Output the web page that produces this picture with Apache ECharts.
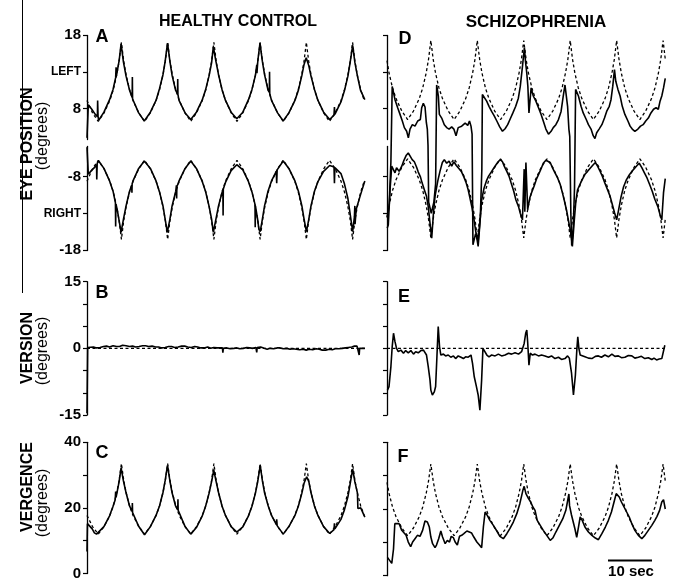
<!DOCTYPE html>
<html>
<head>
<meta charset="utf-8">
<script src="https://cdn.jsdelivr.net/npm/echarts@6.0.0/dist/echarts.min.js"></script>
<style>
  html, body { margin: 0; padding: 0; background: #fff; }
  #chart { width: 673px; height: 581px; }
</style>
</head>
<body>
<div id="chart"></div>
<script>
// target (dashed) traces, time in seconds
var hcTgtTime = [0, 1.27, 2.6,
  3.93, 5.27, 6.06, 6.86, 7.4, 7.93, 8.46, 9.0, 9.8, 10.6, 11.93, 13.25,
  14.58, 15.92, 16.71, 17.51, 18.05, 18.58, 19.11, 19.65, 20.45, 21.25, 22.58, 23.9,
  25.23, 26.57, 27.36, 28.16, 28.7, 29.23, 29.76, 30.3, 31.1, 31.9, 33.23, 34.55,
  35.88, 37.22, 38.01, 38.81, 39.35, 39.88, 40.41, 40.95, 41.75, 42.55, 43.88, 45.2,
  46.53, 47.87, 48.66, 49.46, 50.0, 50.53, 51.06, 51.6, 52.4, 53.2, 54.53, 55.85,
  57.18, 58.52, 59.31, 60.11, 60.65, 61.18, 61.71, 62.25, 63.05, 63.85];
var hcLeftTarget = [9.1, 7.4, 6.25,
  7.4, 9.1, 10.55, 12.6, 14.45, 17.0, 14.45, 12.6, 10.55, 9.1, 7.4, 6.25,
  7.4, 9.1, 10.55, 12.6, 14.45, 17.0, 14.45, 12.6, 10.55, 9.1, 7.4, 6.25,
  7.4, 9.1, 10.55, 12.6, 14.45, 17.0, 14.45, 12.6, 10.55, 9.1, 7.4, 6.25,
  7.4, 9.1, 10.55, 12.6, 14.45, 17.0, 14.45, 12.6, 10.55, 9.1, 7.4, 6.25,
  7.4, 9.1, 10.55, 12.6, 14.45, 17.0, 14.45, 12.6, 10.55, 9.1, 7.4, 6.25,
  7.4, 9.1, 10.55, 12.6, 14.45, 17.0, 14.45, 12.6, 10.55, 9.1];
var hcRightTarget = [-8.65, -6.95, -5.8,
  -6.95, -8.65, -10.1, -12.15, -14.0, -16.55, -14.0, -12.15, -10.1, -8.65, -6.95, -5.8,
  -6.95, -8.65, -10.1, -12.15, -14.0, -16.55, -14.0, -12.15, -10.1, -8.65, -6.95, -5.8,
  -6.95, -8.65, -10.1, -12.15, -14.0, -16.55, -14.0, -12.15, -10.1, -8.65, -6.95, -5.8,
  -6.95, -8.65, -10.1, -12.15, -14.0, -16.55, -14.0, -12.15, -10.1, -8.65, -6.95, -5.8,
  -6.95, -8.65, -10.1, -12.15, -14.0, -16.55, -14.0, -12.15, -10.1, -8.65, -6.95, -5.8,
  -6.95, -8.65, -10.1, -12.15, -14.0, -16.55, -14.0, -12.15, -10.1, -8.65];
var hcVergTarget = [17.7, 14.3, 12,
  14.3, 17.7, 20.6, 24.7, 28.4, 33.5, 28.4, 24.7, 20.6, 17.7, 14.3, 12,
  14.3, 17.7, 20.6, 24.7, 28.4, 33.5, 28.4, 24.7, 20.6, 17.7, 14.3, 12,
  14.3, 17.7, 20.6, 24.7, 28.4, 33.5, 28.4, 24.7, 20.6, 17.7, 14.3, 12,
  14.3, 17.7, 20.6, 24.7, 28.4, 33.5, 28.4, 24.7, 20.6, 17.7, 14.3, 12,
  14.3, 17.7, 20.6, 24.7, 28.4, 33.5, 28.4, 24.7, 20.6, 17.7, 14.3, 12,
  14.3, 17.7, 20.6, 24.7, 28.4, 33.5, 28.4, 24.7, 20.6, 17.7];

var szTgtTime = [0, 0.47, 1.27, 2.08, 3.41, 4.75,
  6.09, 7.43, 8.23, 9.03, 9.57, 10.1, 10.64, 11.17, 11.97, 12.78, 14.11, 15.45,
  16.79, 18.13, 18.93, 19.73, 20.27, 20.8, 21.34, 21.87, 22.67, 23.48, 24.81, 26.15,
  27.49, 28.83, 29.63, 30.43, 30.97, 31.5, 32.04, 32.57, 33.37, 34.18, 35.51, 36.85,
  38.19, 39.53, 40.33, 41.13, 41.67, 42.2, 42.74, 43.27, 44.07, 44.88, 46.21, 47.55,
  48.89, 50.23, 51.03, 51.83, 52.37, 52.9, 53.44, 53.97, 54.77, 55.58, 56.91, 58.25,
  59.59, 60.93, 61.73, 62.53, 63.07, 63.6, 64.1];
var szLeftTarget = [14.5, 12.85, 10.8, 9.35, 7.65, 6.5,
  7.65, 9.35, 10.8, 12.85, 14.7, 17.25, 14.7, 12.85, 10.8, 9.35, 7.65, 6.5,
  7.65, 9.35, 10.8, 12.85, 14.7, 17.25, 14.7, 12.85, 10.8, 9.35, 7.65, 6.5,
  7.65, 9.35, 10.8, 12.85, 14.7, 17.25, 14.7, 12.85, 10.8, 9.35, 7.65, 6.5,
  7.65, 9.35, 10.8, 12.85, 14.7, 17.25, 14.7, 12.85, 10.8, 9.35, 7.65, 6.5,
  7.65, 9.35, 10.8, 12.85, 14.7, 17.25, 14.7, 12.85, 10.8, 9.35, 7.65, 6.5,
  7.65, 9.35, 10.8, 12.85, 14.7, 17.25, 14.7];
var szRightTarget = [-13.6, -11.95, -9.9, -8.45, -6.75, -5.6,
  -6.75, -8.45, -9.9, -11.95, -13.8, -16.35, -13.8, -11.95, -9.9, -8.45, -6.75, -5.6,
  -6.75, -8.45, -9.9, -11.95, -13.8, -16.35, -13.8, -11.95, -9.9, -8.45, -6.75, -5.6,
  -6.75, -8.45, -9.9, -11.95, -13.8, -16.35, -13.8, -11.95, -9.9, -8.45, -6.75, -5.6,
  -6.75, -8.45, -9.9, -11.95, -13.8, -16.35, -13.8, -11.95, -9.9, -8.45, -6.75, -5.6,
  -6.75, -8.45, -9.9, -11.95, -13.8, -16.35, -13.8, -11.95, -9.9, -8.45, -6.75, -5.6,
  -6.75, -8.45, -9.9, -11.95, -13.8, -16.35, -13.8];
var szVergTarget = [28.0, 24.7, 20.6, 17.7, 14.3, 12,
  14.3, 17.7, 20.6, 24.7, 28.4, 33.5, 28.4, 24.7, 20.6, 17.7, 14.3, 12,
  14.3, 17.7, 20.6, 24.7, 28.4, 33.5, 28.4, 24.7, 20.6, 17.7, 14.3, 12,
  14.3, 17.7, 20.6, 24.7, 28.4, 33.5, 28.4, 24.7, 20.6, 17.7, 14.3, 12,
  14.3, 17.7, 20.6, 24.7, 28.4, 33.5, 28.4, 24.7, 20.6, 17.7, 14.3, 12,
  14.3, 17.7, 20.6, 24.7, 28.4, 33.5, 28.4, 24.7, 20.6, 17.7, 14.3, 12,
  14.3, 17.7, 20.6, 24.7, 28.4, 33.5, 28.4];

var versionTgtTime = [0, 64.1];
var versionTarget = [0, 0];

// recorded eye traces, [time, degrees]
var hcLeftEye = [[0,4.0],[0.3,8.5],[1.1,7.9],[1.9,7.2],[2.4,6.9],[2.45,9.1],[2.55,6.9],[2.7,6.4],[3.9,7.5],[5.2,9.2],[6.0,10.6],[6.6,12.2],[6.7,13.6],[6.8,12.5],[7.4,14.5],[7.85,16.8],[8.4,14.3],[9.0,12.4],[9.8,10.5],[10.4,9.5],[10.45,12.3],[10.5,9.3],[11.9,7.4],[13.2,6.3],[14.6,7.5],[15.9,9.1],[16.7,10.7],[17.5,12.6],[18.0,14.4],[18.55,16.9],[19.1,14.4],[19.6,12.5],[20.4,10.5],[20.85,10.0],[20.9,12.0],[20.95,9.9],[21.2,9.1],[22.6,7.4],[23.9,6.5],[25.2,7.5],[26.5,9.1],[27.3,10.5],[28.1,12.4],[28.7,14.2],[29.1,16.4],[29.7,14.4],[30.3,12.6],[31.1,10.6],[31.9,9.1],[33.2,7.5],[34.5,6.6],[35.9,7.5],[37.2,9.2],[38.0,10.6],[38.8,12.5],[39.1,13.9],[39.15,12.8],[39.35,14.5],[39.85,16.9],[40.4,14.4],[40.9,12.6],[41.7,10.5],[42.0,10.2],[42.05,13.0],[42.1,10.0],[42.5,9.1],[43.9,7.4],[45.2,6.3],[46.5,7.4],[47.9,9.1],[48.7,10.5],[49.5,12.5],[50.0,14.0],[50.5,14.9],[51.1,13.8],[51.6,12.4],[52.4,10.6],[53.2,9.1],[54.5,7.5],[55.9,6.5],[56.9,7.1],[57.0,8.2],[57.1,7.2],[58.5,8.9],[59.3,10.4],[60.1,12.4],[60.6,14.2],[61.2,16.6],[61.7,14.3],[62.3,12.4],[63.0,10.5],[64.0,9.2]];
var hcRightEye = [[0,-4.0],[0.3,-7.7],[1.0,-7.2],[1.7,-6.8],[2.2,-6.4],[2.25,-8.4],[2.35,-6.2],[2.7,-5.9],[3.9,-6.9],[5.2,-8.6],[6.0,-10.0],[6.55,-11.6],[6.6,-14.8],[6.65,-12.0],[6.9,-12.3],[7.4,-14.0],[7.85,-15.6],[8.4,-13.8],[9.0,-12.0],[9.8,-10.0],[10.3,-9.2],[10.35,-10.2],[10.4,-9.0],[10.6,-8.6],[11.9,-6.9],[13.2,-5.9],[14.6,-6.9],[15.9,-8.6],[16.7,-10.1],[17.5,-12.0],[18.0,-13.8],[18.5,-15.6],[19.1,-13.8],[19.6,-12.0],[20.45,-10.0],[20.6,-9.2],[20.65,-11.0],[20.7,-9.4],[21.2,-8.6],[22.6,-6.9],[23.9,-5.9],[25.2,-6.9],[26.5,-8.6],[27.3,-10.0],[28.1,-12.0],[28.7,-13.8],[29.1,-15.6],[29.7,-13.8],[30.3,-12.0],[31.1,-10.2],[31.3,-9.8],[31.35,-13.3],[31.4,-9.7],[31.9,-8.8],[33.2,-7.2],[34.5,-6.4],[35.9,-7.1],[37.2,-8.7],[38.0,-10.1],[38.7,-11.8],[38.75,-14.9],[38.8,-12.0],[39.3,-13.8],[39.6,-15.2],[39.9,-15.5],[40.4,-13.8],[40.9,-12.0],[41.7,-10.0],[42.5,-8.6],[43.6,-7.3],[43.7,-8.9],[43.8,-7.1],[45.2,-5.9],[46.5,-6.9],[47.9,-8.6],[48.7,-10.0],[49.5,-12.0],[50.0,-13.8],[50.55,-15.5],[51.1,-13.8],[51.6,-12.0],[52.4,-10.0],[53.2,-8.7],[54.5,-7.3],[55.9,-6.5],[56.9,-6.7],[57.0,-8.9],[57.1,-6.8],[58.5,-7.6],[59.3,-9.0],[60.1,-11.0],[60.6,-13.0],[61.2,-15.5],[61.6,-13.5],[61.7,-12.0],[61.75,-14.5],[62.0,-12.5],[62.3,-12.6],[63.0,-10.5],[64.0,-8.6]];
var hcVersion = [[0,-14.6],[0.1,-14.6],[0.15,0.2],[1.5,0.3],[2.2,0.1],[3,0.2],[3.8,0.4],[4.5,0.5],[5.2,0.3],[6,0.6],[6.8,0.4],[7.5,0.4],[8.2,0.7],[9,0.6],[9.8,0.4],[10.5,0.5],[11.2,0.3],[12,0.4],[12.8,0.6],[13.5,0.6],[14.2,0.4],[15,0.5],[15.8,0.3],[16.5,0.3],[17.2,0.1],[18,0.2],[18.8,0.4],[19.5,0.4],[20.2,0.2],[21,0.3],[21.8,0.5],[22.5,0.5],[23.2,0.3],[24,0.2],[24.8,0.4],[25.5,0.3],[26.2,0.1],[27,0.1],[27.8,0.3],[28.5,0.0],[29.2,0.2],[30,0.1],[31.2,0.1],[31.3,-1.0],[31.4,0.0],[32.2,0.1],[33,-0.1],[33.8,0.0],[34.5,0.1],[35.2,-0.1],[36,0.0],[36.8,0.2],[37.5,0.1],[38.2,0.0],[38.9,0.2],[39.1,-0.9],[39.2,0.2],[40,0.3],[40.8,0.0],[41.5,-0.2],[42.2,0.0],[43,-0.1],[43.8,0.1],[44.5,0.1],[45.2,-0.1],[46,0.0],[46.8,-0.2],[47.5,-0.1],[48.2,-0.2],[49,-0.3],[49.8,-0.2],[50.5,-0.4],[51.2,-0.2],[52,-0.3],[52.8,-0.1],[53.5,-0.2],[54.2,-0.4],[55,-0.4],[55.8,-0.2],[56.5,-0.3],[57.2,-0.1],[58,-0.1],[58.8,0.0],[59.5,0.1],[60.2,0.2],[61,0.3],[61.6,0.5],[62.2,0.5],[62.6,0.1],[62.7,-1.5],[62.8,0.0],[64,0.0]];
var hcVergence = [[0,6.7],[0.1,15.2],[0.5,15.0],[1.2,13.6],[1.7,12.4],[2.2,12.0],[2.6,12.2],[3.9,14.3],[5.2,17.6],[6.0,20.5],[6.5,22.5],[6.6,25.0],[6.7,23.2],[7.4,28.0],[7.85,32.2],[8.4,28.2],[9.0,24.6],[9.8,20.6],[10.4,18.9],[10.45,21.5],[10.5,18.6],[11.9,14.4],[13.25,11.8],[14.6,14.3],[15.9,17.7],[16.7,20.6],[17.5,24.7],[18.0,28.3],[18.55,33.0],[19.1,28.2],[19.6,24.6],[20.4,20.6],[20.9,19.5],[20.95,22.6],[21.0,19.3],[22.6,14.3],[23.9,12.0],[25.2,14.0],[26.5,17.4],[27.3,20.4],[28.1,24.4],[28.7,28.0],[29.2,31.6],[29.7,28.3],[30.3,24.7],[31.1,20.6],[31.9,17.7],[33.2,14.3],[34.5,12.6],[35.9,14.2],[37.2,17.6],[38.0,20.5],[38.8,24.5],[39.35,28.2],[39.9,33.0],[40.4,28.3],[40.9,24.6],[41.75,20.6],[42.5,17.7],[43.6,15.0],[43.7,16.5],[43.8,14.6],[45.2,12.0],[46.5,14.3],[47.9,17.7],[48.7,20.6],[49.5,24.5],[50.0,27.5],[50.6,29.5],[51.1,28.0],[51.6,24.6],[52.4,20.6],[53.2,17.7],[54.5,14.3],[55.9,12.2],[56.9,13.4],[57.0,15.3],[57.1,13.6],[58.5,16.5],[59.3,19.4],[60.1,23.4],[60.6,27.2],[61.2,31.8],[61.7,28.0],[62.3,24.5],[62.4,19.8],[62.6,20.0],[63.05,20.0],[64.0,17.2]];

var szLeftEye = [[0.05,-13.5],[0.5,-12.0],[0.9,-6.0],[1.2,11.0],[1.5,10.8],[1.84,9.2],[2.46,8.1],[3.0,7.2],[3.53,6.3],[4.0,5.4],[4.53,4.9],[4.92,4.0],[5.3,5.2],[5.84,5.8],[6.45,5.6],[7.07,6.3],[7.68,6.5],[7.99,8.1],[8.37,8.7],[8.76,8.2],[9.06,6.1],[9.29,5.2],[9.45,-3.0],[9.6,-11.5],[10.2,-13.0],[10.8,-11.5],[11.2,-9.0],[11.44,11.2],[11.83,9.7],[12.06,7.2],[12.6,6.7],[13.2,5.8],[13.75,5.4],[14.3,5.2],[14.9,5.5],[15.4,5.2],[15.9,4.3],[16.4,5.4],[17.2,5.6],[18.0,6.0],[18.6,5.7],[19.0,6.3],[19.35,5.6],[19.6,4.5],[19.8,-17.3],[20.4,-15.8],[21.0,-16.8],[21.5,-13.5],[21.85,-7.0],[21.97,9.9],[22.4,9.7],[22.96,9.0],[23.5,8.3],[24.1,7.6],[24.7,7.0],[25.3,6.3],[25.96,5.5],[26.6,4.9],[27.2,5.25],[27.8,5.8],[28.4,6.6],[29.0,7.4],[29.65,8.3],[30.26,9.4],[30.7,11.0],[31.2,13.7],[31.65,16.3],[31.9,14.4],[32.2,12.8],[32.45,11.0],[32.7,7.4],[33.2,10.8],[33.7,9.7],[34.3,9.0],[34.9,8.1],[35.5,7.2],[36.0,6.3],[36.6,5.2],[37.2,4.5],[37.8,4.9],[38.3,5.4],[38.9,5.8],[39.5,6.5],[40.1,7.6],[40.6,9.7],[41.0,11.2],[41.4,11.0],[41.6,8.3],[41.9,5.2],[42.1,4.2],[42.35,-13.0],[42.55,-17.4],[42.9,-15.0],[43.2,-9.5],[43.45,10.6],[44.1,9.7],[44.7,8.3],[45.2,7.4],[45.9,6.5],[46.4,5.8],[47.0,5.2],[47.5,4.3],[47.9,3.9],[48.3,4.7],[48.85,5.2],[49.5,5.8],[50.1,6.7],[50.6,7.6],[51.2,8.3],[51.6,9.2],[52.0,11.0],[52.4,13.3],[52.7,11.7],[53.2,10.6],[53.7,9.7],[54.2,8.3],[54.8,7.2],[55.5,6.3],[56.0,5.6],[56.5,5.2],[57.1,4.9],[57.8,5.2],[58.4,5.6],[59.0,5.8],[59.6,6.3],[60.2,6.7],[60.8,7.4],[61.4,7.9],[61.98,8.1],[62.5,7.9],[62.9,9.0],[63.3,9.7],[63.7,10.8],[64.1,12.1]];
var szRightEye = [[0.05,-15.0],[0.3,-14.6],[0.7,-9.8],[1.08,-6.6],[1.46,-6.4],[1.84,-7.5],[2.2,-6.8],[2.8,-7.3],[3.4,-6.6],[3.9,-5.8],[4.45,-5.1],[4.9,-4.8],[5.4,-5.3],[5.8,-5.7],[6.3,-6.0],[6.8,-6.7],[7.2,-7.4],[7.7,-8.05],[8.1,-8.9],[8.6,-9.8],[9.1,-10.7],[9.5,-12.1],[9.9,-14.3],[10.3,-16.4],[10.7,-13.0],[11.06,-10.7],[11.7,-8.6],[12.2,-7.3],[12.75,-6.1],[13.2,-5.7],[13.75,-6.2],[14.3,-5.9],[14.9,-6.6],[15.4,-6.0],[15.97,-6.5],[16.6,-6.95],[17.2,-7.4],[17.7,-8.05],[18.2,-8.8],[18.7,-9.8],[19.1,-10.9],[19.6,-12.3],[20.05,-13.9],[20.5,-15.7],[21.0,-17.5],[21.35,-14.8],[21.8,-11.2],[22.35,-9.6],[22.9,-8.6],[23.4,-7.95],[24.0,-7.4],[24.5,-6.95],[25.0,-6.5],[25.6,-6.0],[26.1,-5.7],[26.6,-6.0],[27.0,-6.6],[27.6,-7.3],[28.1,-7.95],[28.6,-8.9],[29.2,-10.0],[29.7,-11.2],[30.3,-12.1],[30.7,-13.0],[31.2,-13.9],[31.5,-14.1],[31.6,-7.0],[31.75,-12.8],[32.0,-6.1],[32.4,-12.5],[32.9,-10.9],[33.3,-10.2],[33.9,-9.3],[34.4,-8.4],[35.0,-7.6],[35.5,-6.95],[36.0,-6.2],[36.6,-5.8],[37.0,-5.6],[37.6,-6.1],[38.1,-6.8],[38.7,-7.5],[39.3,-8.2],[39.9,-9.1],[40.4,-10.2],[40.9,-11.4],[41.4,-12.7],[41.9,-14.3],[42.4,-15.8],[42.7,-17.5],[43.1,-14.3],[43.5,-11.4],[43.9,-9.8],[44.5,-9.0],[45.0,-8.4],[45.6,-7.7],[46.2,-7.3],[46.9,-6.8],[47.5,-6.4],[48.0,-6.1],[48.5,-6.6],[49.1,-7.3],[49.6,-7.95],[50.2,-8.9],[50.8,-9.8],[51.4,-10.7],[51.9,-11.8],[52.4,-12.9],[52.9,-13.9],[53.3,-12.7],[53.9,-10.8],[54.5,-9.4],[55.1,-8.5],[55.8,-7.8],[56.4,-7.3],[57.0,-6.9],[57.6,-6.5],[58.1,-6.2],[58.7,-6.8],[59.3,-7.5],[59.9,-8.2],[60.5,-9.1],[61.1,-10.0],[61.7,-11.1],[62.4,-12.1],[62.9,-13.2],[63.3,-13.9],[63.7,-10.2],[64.1,-8.3]];
var szVersion = [[0.1,-9.4],[0.46,-8.6],[0.9,-4.1],[1.2,0.4],[1.5,3.4],[1.84,1.5],[2.2,0],[2.6,-0.75],[3.2,-0.4],[3.8,-1.1],[4.3,-0.5],[4.9,-1.0],[5.5,-0.5],[6.1,-1.3],[6.6,-0.75],[7.2,-1.0],[7.8,-0.5],[8.4,-0.4],[8.8,-0.5],[9.1,-1.5],[9.5,-4.1],[9.9,-7.1],[10.1,-9.4],[10.45,-10.5],[10.9,-9.8],[11.2,-8.6],[11.5,-1.9],[11.8,4.9],[12.1,0.4],[12.4,-1.5],[13.0,-1.3],[13.5,-1.7],[14.1,-1.5],[14.7,-2.0],[15.3,-1.7],[15.8,-2.3],[16.4,-1.7],[17.05,-2.0],[17.6,-2.3],[18.1,-1.9],[18.7,-2.0],[19.35,-1.5],[19.7,-3.4],[20.1,-6.4],[20.6,-8.6],[21.0,-10.5],[21.4,-13.9],[21.8,-7.1],[22.1,0],[22.4,-0.4],[23.0,-1.5],[23.5,-1.9],[24.1,-1.5],[24.9,-1.7],[25.65,-1.3],[26.4,-1.7],[27.2,-1.5],[28.0,-1.1],[28.7,-1.3],[29.5,-1.0],[30.3,-1.3],[31.0,-0.75],[31.6,1.1],[31.95,3.4],[32.2,4.1],[32.4,1.5],[32.7,-3.8],[33.0,-1.1],[33.5,-1.5],[34.1,-1.3],[34.9,-1.7],[35.6,-1.5],[36.4,-1.7],[37.2,-2.0],[37.9,-1.7],[38.7,-2.3],[39.5,-2.0],[40.2,-2.5],[41.0,-2.3],[41.6,-1.7],[42.0,-2.2],[42.5,-5.5],[42.95,-10.5],[43.4,-6.0],[43.75,0],[43.95,2.6],[44.2,0],[44.5,-1.5],[45.6,-1.9],[46.4,-2.2],[47.2,-2.3],[48.0,-1.8],[48.7,-1.7],[49.4,-2.0],[50.2,-1.5],[51.0,-1.9],[51.8,-1.3],[52.5,-1.8],[53.3,-1.7],[54.0,-2.1],[54.8,-2.0],[55.6,-1.6],[56.4,-1.7],[57.1,-2.2],[57.9,-2.0],[58.6,-1.8],[59.4,-2.3],[60.2,-2.1],[61.0,-2.5],[61.5,-2.2],[62.1,-2.6],[62.7,-2.4],[63.3,-2.3],[63.7,-2.6],[64.0,0.7]];
var szVergence = [[0.1,5.5],[0.5,5.2],[1.1,3.7],[1.5,8.0],[1.8,15.6],[2.2,16.1],[2.8,15.6],[3.4,13.6],[3.8,14.1],[4.4,12.1],[4.9,10.1],[5.45,8.7],[5.9,10.1],[6.45,11.1],[7.0,12.1],[7.6,11.8],[8.2,13.6],[8.75,16.4],[9.3,16.1],[9.75,14.6],[10.1,11.6],[10.5,9.6],[11.06,8.4],[11.4,9.2],[11.9,11.1],[12.4,13.4],[12.8,11.6],[13.4,9.6],[13.9,10.6],[14.4,10.1],[14.8,11.8],[15.3,11.4],[15.7,10.1],[16.2,9.2],[16.7,11.8],[17.2,12.1],[17.7,12.6],[18.4,13.4],[18.97,13.1],[19.5,12.8],[20.0,11.6],[20.7,10.1],[21.3,9.2],[21.8,8.4],[22.2,14.6],[22.6,19.1],[23.1,18.1],[23.7,16.6],[24.5,15.1],[25.3,13.4],[26.0,11.8],[26.8,11.1],[27.6,12.6],[28.3,14.1],[29.1,16.1],[29.9,18.6],[30.6,21.6],[31.3,25.6],[31.6,26.8],[32.0,24.6],[32.6,23.1],[33.1,22.1],[33.6,20.6],[34.1,19.6],[34.6,16.6],[35.3,15.1],[36.0,13.6],[36.8,12.1],[37.6,10.6],[38.2,11.3],[38.9,13.1],[39.7,15.1],[40.5,17.1],[41.2,19.6],[41.9,24.5],[42.05,21.0],[42.5,18.2],[42.9,16.1],[43.3,14.0],[43.7,11.5],[44.1,14.5],[44.5,17.6],[45.0,16.5],[45.6,14.6],[46.4,13.1],[47.2,12.1],[48.0,11.3],[48.7,10.8],[49.5,12.6],[50.3,14.6],[51.0,16.6],[51.7,19.1],[52.3,22.1],[52.8,24.6],[53.1,25.0],[53.5,23.6],[54.0,22.1],[54.6,20.6],[55.2,19.1],[55.8,17.6],[56.4,15.6],[57.1,13.6],[57.9,12.1],[58.7,11.1],[59.4,12.1],[60.2,13.6],[61.0,15.1],[61.7,16.6],[62.2,17.8],[62.8,19.6],[63.3,22.1],[63.7,22.8],[64.1,20.0]];

// axis ticks and labels
var eyeTicks = [-18, -13, -8, 8, 13, 18];
var versionTicks = [-15, -10, -5, 0, 5, 10, 15];
var versionLabels = [-15, 0, 15];
var vergenceTicks = [0, 10, 20, 30, 40];
var vergenceLabels = [0, 20, 40];

function pairs(ts, vs) {
  return ts.map(function (t, i) { return [t, vs[i]]; });
}

var FONT = '"Liberation Sans", Arial, Helvetica, sans-serif';
var plotW = 280;
var panels = [
  {left: 87, top: 35, height: 215},
  {left: 87, top: 281.7, height: 133.3},
  {left: 87, top: 442.3, height: 133.4},
  {left: 387, top: 35, height: 215},
  {left: 387, top: 281.7, height: 133.3},
  {left: 387, top: 442.3, height: 133.4}
];

function yAxisFor(kind, showLabels, idx) {
  var ax = {
    type: 'value', gridIndex: idx,
    axisLine: {show: true, lineStyle: {color: '#000', width: 1.3}},
    splitLine: {show: false},
    axisTick: {show: true, length: 4, inside: false, lineStyle: {color: '#000', width: 1.2}},
    axisLabel: {show: showLabels, color: '#000', fontFamily: FONT, fontWeight: 'bold', fontSize: 15, margin: 6}
  };
  if (kind === 'eye') {
    ax.min = -18; ax.max = 18;
    // gap is in axis units: about 7 px at this scale
    ax.breaks = [{start: -3.9, end: 3.8, gap: 0.95}];
    ax.breakArea = {show: true, zigzagAmplitude: 0, itemStyle: {color: 'rgba(255,255,255,0)', borderColor: 'rgba(0,0,0,0)', borderWidth: 0}};
    ax.axisTick.customValues = eyeTicks;
    ax.axisLabel.customValues = eyeTicks;
    ax.axisLabel.formatter = function (v) {
      if (v === 13) return '{s|LEFT}';
      if (v === -13) return '{s|RIGHT}';
      return String(v);
    };
    ax.axisLabel.rich = {s: {fontFamily: FONT, fontWeight: 'bold', fontSize: 12, color: '#000'}};
  } else if (kind === 'version') {
    ax.min = -15; ax.max = 15; ax.interval = 5;
    ax.axisTick.customValues = versionTicks;
    ax.axisLabel.customValues = versionLabels;
  } else {
    ax.min = 0; ax.max = 40; ax.interval = 10;
    ax.axisTick.customValues = vergenceTicks;
    ax.axisLabel.customValues = vergenceLabels;
  }
  return ax;
}

function trace(idx, data, dashed) {
  return {
    type: 'line', xAxisIndex: idx, yAxisIndex: idx, data: data,
    showSymbol: false, symbol: 'none', smooth: false, animation: false, silent: true,
    z: dashed ? 2 : 3,
    lineStyle: dashed ?
      {color: '#000', width: 1.3, type: [3, 2.5]} :
      {color: '#000', width: 1.6}
  };
}

function txt(x, y, text, size, weight, rot) {
  return {
    type: 'text', x: x, y: y, rotation: rot || 0, silent: true,
    style: {text: text, fill: '#000', fontFamily: FONT, fontSize: size, fontWeight: weight,
      align: 'center', verticalAlign: 'middle'}
  };
}

var chart = echarts.init(document.getElementById('chart'), null, {renderer: 'canvas'});
chart.setOption({
  backgroundColor: '#fff',
  animation: false,
  grid: panels.map(function (p) {
    return {left: p.left, top: p.top, width: plotW, height: p.height, containLabel: false};
  }),
  xAxis: panels.map(function (p, i) {
    return {type: 'value', gridIndex: i, min: 0, max: 64.5, show: false};
  }),
  yAxis: [
    yAxisFor('eye', true, 0),
    yAxisFor('version', true, 1),
    yAxisFor('vergence', true, 2),
    yAxisFor('eye', false, 3),
    yAxisFor('version', false, 4),
    yAxisFor('vergence', false, 5)
  ],
  series: [
    trace(0, pairs(hcTgtTime, hcLeftTarget), true),
    trace(0, pairs(hcTgtTime, hcRightTarget), true),
    trace(0, hcLeftEye, false),
    trace(0, hcRightEye, false),
    trace(1, pairs(versionTgtTime, versionTarget), true),
    trace(1, hcVersion, false),
    trace(2, pairs(hcTgtTime, hcVergTarget), true),
    trace(2, hcVergence, false),
    trace(3, pairs(szTgtTime, szLeftTarget), true),
    trace(3, pairs(szTgtTime, szRightTarget), true),
    trace(3, szLeftEye, false),
    trace(3, szRightEye, false),
    trace(4, pairs(versionTgtTime, versionTarget), true),
    trace(4, szVersion, false),
    trace(5, pairs(szTgtTime, szVergTarget), true),
    trace(5, szVergence, false)
  ],
  graphic: [
    {type: 'line', silent: true, shape: {x1: 22.5, y1: 0, x2: 22.5, y2: 293}, style: {stroke: '#000', lineWidth: 1}},
    txt(238, 22, 'HEALTHY CONTROL', 16, 'bold'),
    txt(536, 22, 'SCHIZOPHRENIA', 17, 'bold'),
    txt(102, 37, 'A', 18, 'bold'),
    txt(102, 293, 'B', 18, 'bold'),
    txt(102, 453, 'C', 18, 'bold'),
    txt(405, 39, 'D', 18, 'bold'),
    txt(404, 297, 'E', 18, 'bold'),
    txt(403, 457, 'F', 18, 'bold'),
    txt(28, 144, 'EYE POSITION', 16, 'bold', Math.PI / 2),
    txt(43, 136, '(degrees)', 16, 'normal', Math.PI / 2),
    txt(28, 348, 'VERSION', 16, 'bold', Math.PI / 2),
    txt(43, 351, '(degrees)', 16, 'normal', Math.PI / 2),
    txt(28, 487, 'VERGENCE', 16, 'bold', Math.PI / 2),
    txt(43, 503, '(degrees)', 16, 'normal', Math.PI / 2),
    {type: 'line', silent: true, shape: {x1: 608, y1: 560.5, x2: 652, y2: 560.5}, style: {stroke: '#000', lineWidth: 2}},
    txt(631, 572, '10 sec', 15, 'bold')
  ]
});
</script>
</body>
</html>
